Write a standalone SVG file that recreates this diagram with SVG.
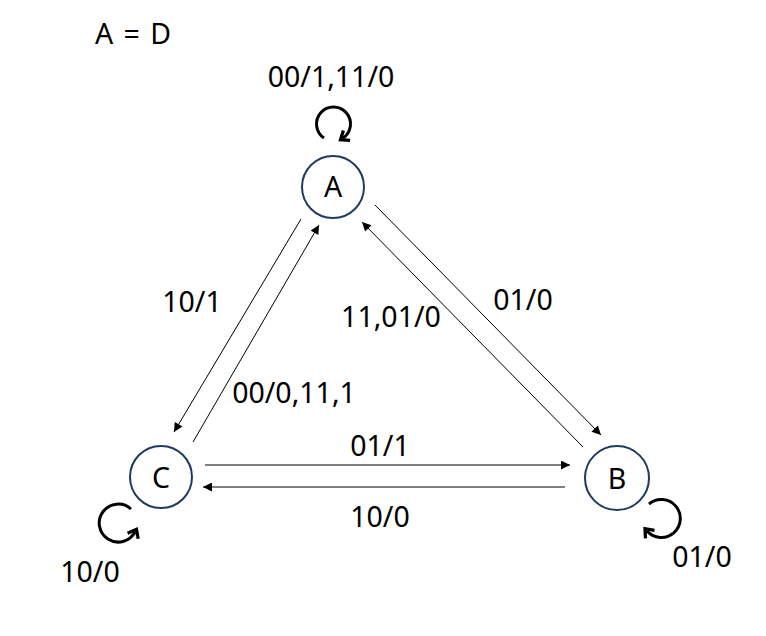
<svg xmlns="http://www.w3.org/2000/svg" width="766" height="636" viewBox="0 0 766 636">
<defs>
<marker id="ah" viewBox="0 0 10 10" refX="10" refY="5" markerWidth="11" markerHeight="9" markerUnits="userSpaceOnUse" orient="auto">
<path d="M0,0 L10,5 L0,10 z" fill="#000"/>
</marker>
<marker id="loopah" viewBox="0 0 10 10" refX="5" refY="5" markerWidth="15" markerHeight="15" markerUnits="userSpaceOnUse" orient="auto">
<path d="M2,1 L7,5 L2,9" fill="none" stroke="#000" stroke-width="2.2"/>
</marker>
<style>
text{font-family:"Noto Sans","Liberation Sans",Arial,sans-serif;font-size:28.5px;fill:#000;text-anchor:middle}
.node circle{fill:#fff;stroke:#1f3a60;stroke-width:2}
.edge{stroke:#000;stroke-width:1;fill:none;marker-end:url(#ah)}
.loop{stroke:#000;stroke-width:3;fill:none;marker-end:url(#loopah)}
</style>
</defs>
<rect width="766" height="636" fill="#fff"/>
<text x="133" y="44" word-spacing="3">A = D</text>
<g id="connectors">
<line class="edge" x1="301" y1="219" x2="174" y2="432"/>
<line class="edge" x1="193" y1="442" x2="319" y2="225"/>
<line class="edge" x1="375" y1="205" x2="601" y2="435"/>
<line class="edge" x1="583" y1="447" x2="362" y2="222"/>
<line class="edge" x1="205" y1="465" x2="570" y2="465"/>
<line class="edge" x1="565" y1="487" x2="203" y2="487"/>
<path class="loop" d="M324,138 A17,17 0 1 1 343,138"/>
<path class="loop" d="M131,509 A19,19 0 1 0 135,532"/>
<path class="loop" d="M649,504 A19,19 0 1 1 647,531"/>
</g>
<g id="labels">
<text x="331" y="87">00/1,11/0</text>
<text x="192" y="312">10/1</text>
<text x="294" y="403">00/0,11,1</text>
<text x="391" y="327">11,01/0</text>
<text x="523" y="310">01/0</text>
<text x="380" y="456">01/1</text>
<text x="380" y="527">10/0</text>
<text x="90" y="582">10/0</text>
<text x="702" y="567">01/0</text>
</g>
<g id="node-A" class="node"><circle cx="333" cy="187" r="31"/><text x="333" y="197">A</text></g>
<g id="node-C" class="node"><circle cx="161" cy="477" r="31"/><text x="161" y="488">C</text></g>
<g id="node-B" class="node"><circle cx="617" cy="478" r="32"/><text x="617" y="489">B</text></g>
</svg>
